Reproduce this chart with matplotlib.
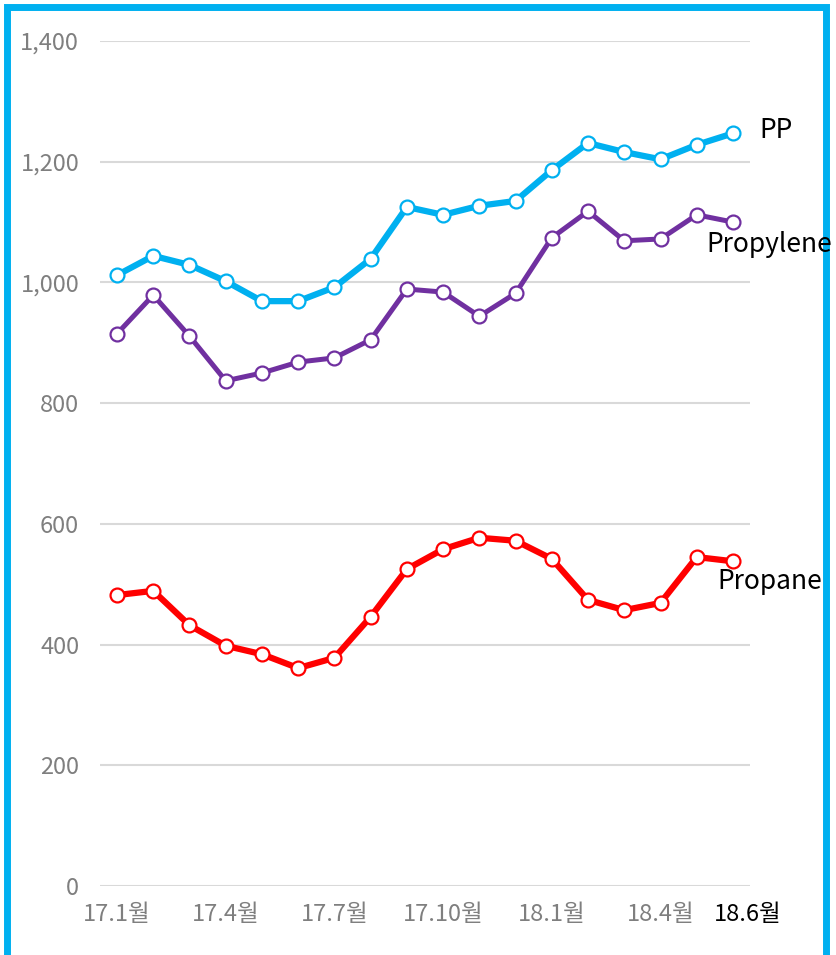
import numpy as np
import matplotlib
matplotlib.use("Agg")
import matplotlib.pyplot as plt
from matplotlib.patches import Rectangle
from matplotlib.transforms import ScaledTranslation

plt.rcParams['font.family'] = ['Noto Sans CJK KR', 'DejaVu Sans']

# 월별 가격 (17.1월 ~ 18.6월)
months = ["17.1", "17.2", "17.3", "17.4", "17.5", "17.6", "17.7", "17.8", "17.9",
          "17.10", "17.11", "17.12", "18.1", "18.2", "18.3", "18.4", "18.5", "18.6"]
pp = [1012, 1044, 1029, 1002, 969, 969, 992, 1039, 1125,
      1112, 1127, 1135, 1186, 1231, 1216, 1204, 1228, 1247]
propylene = [915, 979, 911, 837, 850, 868, 875, 905, 989,
             984, 944, 982, 1074, 1118, 1069, 1072, 1112, 1100]
propane = [482, 489, 432, 398, 384, 361, 378, 446, 525,
           558, 577, 572, 542, 474, 457, 469, 545, 538]

tick_idx = [0, 3, 6, 9, 12, 15, 17]
tick_labels = [months[i] + "월" for i in tick_idx]
y_ticks = [0, 200, 400, 600, 800, 1000, 1200, 1400]

fig = plt.figure(figsize=(8.36, 9.55), dpi=100)
ax = fig.add_axes([100/836, 69/955, 650/836, 845/955])

x = np.arange(len(months))
series = [
    ("PP", pp, "#00B0F0", 4.5, (19, 2)),
    ("Propylene", propylene, "#7030A0", 3.6, (-19, -16.5)),
    ("Propane", propane, "#FF0000", 4.5, (-11, -14.5)),
]
for name, vals, col, lw, off in series:
    ax.plot(x, vals, color=col, lw=lw, marker="o", ms=10,
            mfc="white", mec=col, mew=1.6, zorder=3)
    ax.annotate(name, xy=(x[-1], vals[-1]), xytext=off, textcoords="offset points",
                ha="left", va="center", fontsize=19, color="black",
                annotation_clip=False)

ax.set_xlim(-0.47, 17.47)
ax.set_ylim(0, 1400)
ax.set_yticks(y_ticks)
ax.set_yticklabels([f"{v:,}" for v in y_ticks])
ax.set_xticks(tick_idx)
ax.set_xticklabels(tick_labels)
ax.grid(axis="y", color="#d9d9d9", lw=1.5)
ax.set_axisbelow(True)
for s in ax.spines.values():
    s.set_visible(False)
ax.tick_params(length=0, labelsize=17, colors="#7f7f7f", pad=12)
ax.tick_params(axis="y", pad=15)

# 마지막 라벨은 검정, 조금 오른쪽
last = ax.get_xticklabels()[-1]
last.set_color("black")
last.set_transform(last.get_transform() + ScaledTranslation(15/100, 0, fig.dpi_scale_trans))

# 파란 테두리 (글자 뒤에)
fig.add_artist(Rectangle((6.5/836, -0.05), (825.5-6.5)/836, (948/955) + 0.05,
                         transform=fig.transFigure, fill=False,
                         ec="#00B0F0", lw=5, clip_on=False, zorder=-1))

fig.savefig("out.png", dpi=100)
